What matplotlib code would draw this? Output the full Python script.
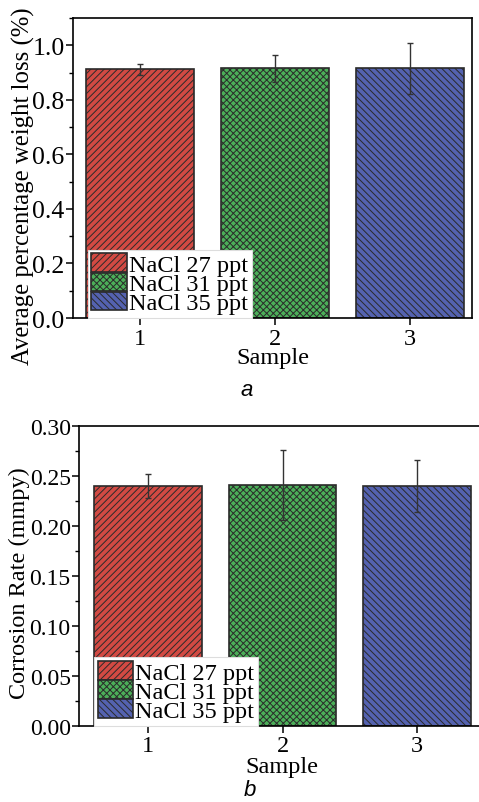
import matplotlib
matplotlib.use("Agg")
import matplotlib.pyplot as plt
from matplotlib.ticker import MultipleLocator, FormatStrFormatter

plt.rcParams['font.family'] = ['Liberation Serif', 'DejaVu Serif']
plt.rcParams['hatch.linewidth'] = 0.7
plt.rcParams['axes.linewidth'] = 1.2

samples = [1, 2, 3]
labels = ['NaCl 27 ppt', 'NaCl 31 ppt', 'NaCl 35 ppt']
colors = ['#d24a43', '#4caf59', '#5462b0']
hatches = ['/////', 'xxxxx', '\\\\\\\\\\']

weight_loss = [0.912, 0.915, 0.915]
weight_loss_err = [0.020, 0.050, 0.092]

corrosion_rate = [0.240, 0.241, 0.240]
corrosion_rate_err = [0.012, 0.035, 0.026]

fig = plt.figure(figsize=(4.79, 8.03), dpi=100)


def draw_panel(ax, vals, errs, ytick_size, xlabel_pad):
    handles = []
    for x, v, e, c, h, lab in zip(samples, vals, errs, colors, hatches, labels):
        b = ax.bar(x, v, width=0.8, color=c, edgecolor='#2a2a2a', linewidth=1.2,
                   hatch=h, label=lab, zorder=2)
        ax.errorbar(x, v, yerr=e, fmt='none', ecolor='#333333', elinewidth=1.0,
                    capsize=2.5, capthick=1.0, zorder=3)
        handles.append(b)
    ax.set_xticks(samples)
    ax.tick_params(axis='x', labelsize=17.5, direction='out', length=5, width=1.1, pad=2)
    ax.tick_params(axis='y', which='major', labelsize=ytick_size, direction='out',
                   length=5, width=1.1, pad=1)
    ax.tick_params(axis='y', which='minor', direction='out', length=3, width=1.0)
    ax.set_xlabel('Sample', fontsize=17.5, labelpad=xlabel_pad)
    leg = ax.legend(handles=handles, loc='lower left', bbox_to_anchor=(0.037, 0.0),
                    borderaxespad=0, fontsize=17.5, handlelength=1.45,
                    handleheight=0.8, handletextpad=0.1, labelspacing=-0.15,
                    borderpad=0.15, fancybox=False, framealpha=1, edgecolor='#dddddd')
    leg.get_frame().set_linewidth(0.8)
    return ax


# panel a
ax1 = fig.add_axes([73 / 479, 1 - 319 / 803, 399 / 479, 300 / 803])
draw_panel(ax1, weight_loss, weight_loss_err, 18.5, -1)
ax1.set_xlim(0.5, 3.46)
ax1.set_ylim(0, 1.1)
ax1.yaxis.set_major_locator(MultipleLocator(0.2))
ax1.yaxis.set_minor_locator(MultipleLocator(0.1))
ax1.yaxis.set_major_formatter(FormatStrFormatter('%.1f'))
ax1.set_ylabel('Average percentage weight loss (%)', fontsize=17.8)
ax1.yaxis.set_label_coords(-0.096, 0.443)

# panel b
ax2 = fig.add_axes([79 / 479, 1 - 726.7 / 803, 405 / 479, 300 / 803])
draw_panel(ax2, corrosion_rate, corrosion_rate_err, 17, 0)
ax2.set_xlim(0.485, 3.5)
ax2.set_ylim(0, 0.30)
ax2.yaxis.set_major_locator(MultipleLocator(0.05))
ax2.yaxis.set_minor_locator(MultipleLocator(0.025))
ax2.yaxis.set_major_formatter(FormatStrFormatter('%.2f'))
ax2.set_ylabel('Corrosion Rate (mmpy)', fontsize=17.5)
ax2.yaxis.set_label_coords(-0.12, 0.477)

fig.text(247 / 479, 1 - 391 / 803, 'a', fontsize=16, style='italic',
         family='Liberation Sans', ha='center', va='center')
fig.text(250 / 479, 1 - 791 / 803, 'b', fontsize=16, style='italic',
         family='Liberation Sans', ha='center', va='center')

fig.savefig('out.png', dpi=100)
